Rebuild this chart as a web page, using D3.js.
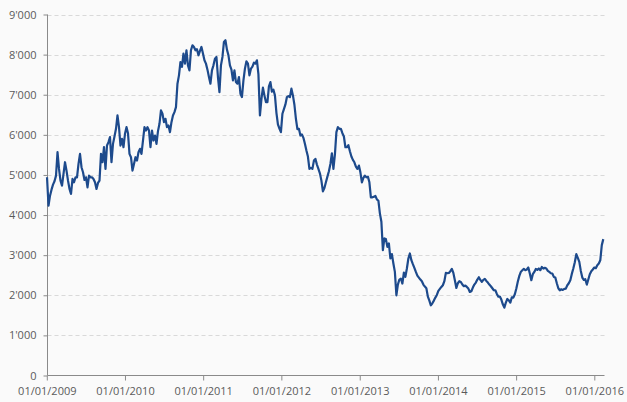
<!DOCTYPE html>
<html>
<head>
<meta charset="utf-8">
<script src="https://cdnjs.cloudflare.com/ajax/libs/d3/7.8.5/d3.min.js"></script>
<style>
  html, body { margin: 0; padding: 0; background: #fafafa; }
  svg { display: block; }
  text { font-family: "Open Sans", "Segoe UI", sans-serif; }
</style>
</head>
<body>
<svg id="chart" width="627" height="402"></svg>
<script>
// ---- data (weekly readings, Fridays from 02/01/2009) ----
const startDate = new Date(2009, 0, 2);
const endDate = new Date(2016, 1, 12);
const values = [
  4941, 4233, 4483, 4633, 4758, 4842, 4983, 5567, 5150, 4858, 4733, 5025, 5317, 5108, 4858, 4650,
  4525, 4900, 4817, 4941, 4941, 5275, 5525, 5192, 5067, 4875, 4941, 4692, 4983, 4941, 4941, 4900,
  4817, 4650, 4800, 4858, 5525, 5317, 5692, 5150, 5733, 5817, 5942, 5317, 5775, 5958, 6150,
  6483, 6192, 5733, 5900, 5692, 6025, 6192, 6042, 5525, 5442, 5108, 5275, 5442, 5358, 5567, 5650,
  5525, 5858, 6192, 6108, 6192, 6108, 5692, 6108, 5858, 5983, 5775, 6092, 6275, 6608, 6525, 6316,
  6400, 6192, 6233, 6066, 6316, 6483, 6566, 6691, 7275, 7483, 7816, 7692, 8025, 7775, 8108, 7733,
  7608, 8108, 8233, 8191, 8108, 8133, 7983, 8091, 8191, 8025, 7858, 7775, 7625, 7441, 7275, 7608,
  7733, 7900, 7941, 7441, 7066, 7733, 7941, 8316, 8358, 8125, 7983, 7733, 7625, 7358, 7608, 7316,
  7275, 7441, 7025, 6941, 7358, 7650, 7833, 7775, 7483, 7650, 7700, 7800, 7775,
  7858, 7508, 6483, 6891, 7175, 6983, 6816, 6816, 7208, 7316, 7075, 7125, 6983, 6550, 6258, 6158,
  6066, 6525, 6641, 6758, 6941, 6966, 6941, 7150, 6983, 6750, 6400, 6141, 6150, 5983, 6008, 5925,
  5775, 5608, 5458, 5150, 5175, 5150, 5358, 5400, 5258, 5150, 5041, 4858, 4591, 4675, 4816, 4958,
  5091, 5275, 5541, 5150, 5508, 6066, 6191, 6150, 6150, 6041, 5958, 5691, 5691, 5741, 5591, 5458,
  5375, 5316, 5208, 5150, 5233, 5066, 4816, 4925, 4983, 4941, 4958, 4816, 4441, 4441, 4458, 4475,
  4392, 4358, 4042, 3833, 3125, 3417, 3400, 3208, 3292, 2917, 3025, 2792, 2583,
  2000, 2267, 2392, 2417, 2292, 2567, 2458, 2667, 2917, 3042, 2875, 2775, 2683, 2583, 2492, 2442,
  2392, 2350, 2267, 2217, 2175, 1967, 1867, 1750, 1800, 1867, 1942, 2008, 2108, 2158, 2208, 2250,
  2350, 2558, 2550, 2558, 2600, 2658, 2558, 2375, 2183, 2300, 2350, 2333, 2267, 2225, 2242, 2208,
  2167, 2083, 2100, 2192, 2267, 2317, 2392, 2450, 2383, 2333, 2383, 2408, 2358, 2317, 2267, 2225,
  2175, 2125, 2125, 2033, 1967, 1967, 1892, 1775, 1692, 1817, 1908, 1875, 1817, 1950, 1942, 2025,
  2167, 2342, 2483, 2583, 2625, 2658, 2625, 2642, 2692, 2542, 2375, 2525, 2583,
  2658, 2633, 2667, 2625, 2708, 2667, 2683, 2667, 2608, 2583, 2550, 2542, 2458, 2442, 2300, 2175,
  2125, 2150, 2133, 2158, 2167, 2250, 2300, 2375, 2533, 2667, 2825, 3025, 2933, 2833, 2608, 2442,
  2383, 2400, 2267, 2392, 2525, 2600, 2642, 2692, 2675, 2750, 2792, 2875, 3250, 3400
];
const yTicks = [0, 1000, 2000, 3000, 4000, 5000, 6000, 7000, 8000, 9000];
const xTickYears = [2009, 2010, 2011, 2012, 2013, 2014, 2015, 2016];

// ---- build table ----
const dates = d3.timeFriday.range(startDate, d3.timeDay.offset(endDate, 1));
const n = Math.min(dates.length, values.length);
const data = d3.range(n).map(i => ({ date: dates[i], value: values[i] }));

// ---- layout ----
const svg = d3.select("#chart");
const plotLeft = 47.5, plotRight = 604.5, plotTop = 14.5, plotBottom = 375.5;

const x = d3.scaleTime()
  .domain([new Date(2009, 0, 1), new Date(2016, 0, 1)])
  .range([46.8, 594.3]);
const y = d3.scaleLinear().domain([0, 9000]).range([plotBottom, plotTop]);

const loc = d3.formatLocale({ decimal: ".", thousands: "'", grouping: [3], currency: ["", ""] });
const fmtY = loc.format(",");
const fmtX = d3.timeFormat("%d/%m/%Y");

// grid
svg.append("g").selectAll("line").data(yTicks.filter(d => d > 0)).join("line")
  .attr("x1", plotLeft).attr("x2", plotRight)
  .attr("y1", d => Math.round(y(d)) + 0.5).attr("y2", d => Math.round(y(d)) + 0.5)
  .attr("stroke", "#d9d9d9").attr("stroke-width", 1).attr("stroke-dasharray", "4,3");

// y axis
const yAxis = svg.append("g").attr("transform", `translate(${plotLeft},0)`)
  .call(d3.axisLeft(y).tickValues(yTicks).tickFormat(fmtY).tickSize(4).tickPadding(7));
yAxis.select(".domain").attr("stroke", "#8a8a8a").attr("d", `M0,${plotTop}V${plotBottom}`);
yAxis.selectAll(".tick line").attr("stroke", "#8a8a8a");
yAxis.selectAll(".tick text").attr("fill", "#5a5a5a").style("font-size", "11px");

// x axis
const xAxis = svg.append("g").attr("transform", `translate(0,${plotBottom})`)
  .call(d3.axisBottom(x).tickValues(xTickYears.map(yr => new Date(yr, 0, 1)))
    .tickFormat(fmtX).tickSize(5).tickPadding(7));
xAxis.select(".domain").attr("stroke", "#8a8a8a").attr("d", `M${plotLeft},0H${plotRight}`);
xAxis.selectAll(".tick line").attr("stroke", "#8a8a8a");
xAxis.selectAll(".tick text").attr("fill", "#5a5a5a").style("font-size", "11px");

// line
const line = d3.line().x(d => x(d.date)).y(d => y(d.value));
svg.append("path").datum(data)
  .attr("fill", "none").attr("stroke", "#1d4a8c").attr("stroke-width", 2.2)
  .attr("stroke-linejoin", "round").attr("d", line);
</script>
</body>
</html>
